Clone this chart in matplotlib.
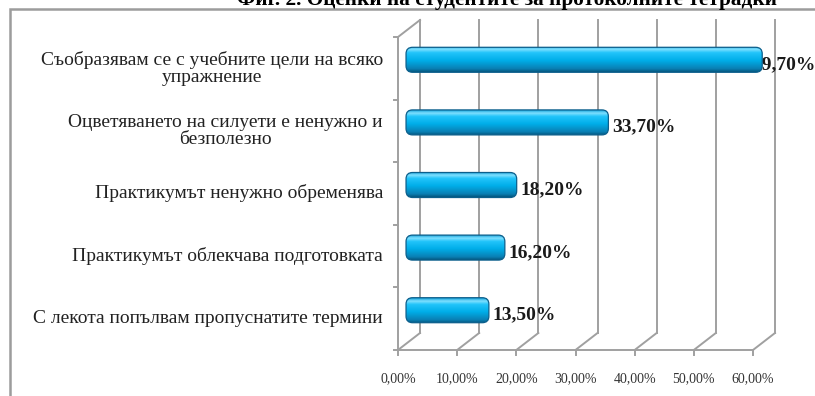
import numpy as np
import matplotlib
matplotlib.use("Agg")
import matplotlib.pyplot as plt
from matplotlib.patches import FancyBboxPatch, Rectangle
from matplotlib.colors import to_rgb

# chart data (top bar first)
categories = [
    "Съобразявам се с учебните цели на всяко\nупражнение",
    "Оцветяването на силуети е ненужно и\nбезполезно",
    "Практикумът ненужно обременява",
    "Практикумът облекчава подготовката",
    "С лекота попълвам пропуснатите термини",
]
values = [59.7, 33.7, 18.2, 16.2, 13.5]
x_ticks = [0, 10, 20, 30, 40, 50, 60]
title = "Фиг. 2. Оценки на студентите за протоколните тетрадки"

SERIF = "Liberation Serif"
GRID = "#a0a0a0"
W, H = 815, 396


def fmt(v):
    return f"{v:.2f}%".replace(".", ",")


fig = plt.figure(figsize=(W / 100, H / 100), dpi=100)
fig.patch.set_facecolor("white")

# outer chart frame
fig.patches.append(Rectangle((10 / W, -0.05), 1.0, 1 - 9 / H + 0.05,
                             transform=fig.transFigure, fill=False,
                             edgecolor="#9c9c9c", linewidth=1.8))

# title, cut off at the top like the reference
fig.text(507 / W, 1 - 5 / H, title, ha="center", va="baseline",
         fontsize=15.3, fontweight="bold", family=SERIF)

# front plane of the 3D plot area
ax = fig.add_axes([398 / W, (H - 350) / H, 355 / W, 313 / H])
ax.set_xlim(0, 60)
ax.set_ylim(-0.5, 4.5)
ax.axis("off")

px_x = 355 / 60     # pixels per percent
px_y = 313 / 5      # pixels per category
DX = 22 / px_x      # depth offset
DY = 17 / px_y

ypos = np.arange(len(categories))[::-1]

# back wall gridlines and floor diagonals
for t in x_ticks:
    ax.plot([t + DX, t + DX], [-0.5 + DY, 4.5 + DY], color=GRID, lw=1.4,
            clip_on=False, zorder=1)
    ax.plot([t, t + DX], [-0.5, -0.5 + DY], color=GRID, lw=1.4,
            clip_on=False, zorder=1)
    ax.plot([t, t], [-0.5, -0.5 - 5 / px_y], color=GRID, lw=1.4,
            clip_on=False, zorder=1)
    ax.text(t, -0.5 - 29 / px_y, fmt(t), ha="center", va="center",
            fontsize=10, family=SERIF, color="#333333")

# floor front edge and left wall
ax.plot([0, 60], [-0.5, -0.5], color=GRID, lw=1.4, clip_on=False, zorder=1)
ax.plot([0, 0], [-0.5, 4.5], color=GRID, lw=1.4, clip_on=False, zorder=1)
ax.plot([0, DX], [4.5, 4.5 + DY], color=GRID, lw=1.4, clip_on=False, zorder=1)
for b in np.arange(-0.5, 4.6, 1.0):
    ax.plot([-4 / px_x, 0], [b, b], color=GRID, lw=1.4, clip_on=False, zorder=1)

# cylinder-like gradient for the bars
stops = [(0.0, "#04577f"), (0.12, "#0a7fb3"), (0.45, "#00aee9"),
         (0.75, "#22c4fa"), (0.88, "#7fe0ff"), (1.0, "#1aa6dc")]
grad_y = np.linspace(0, 1, 64)
grad = np.zeros((64, 1, 3))
for c in range(3):
    grad[:, 0, c] = np.interp(grad_y, [s[0] for s in stops],
                              [to_rgb(s[1])[c] for s in stops])

renderer = fig.canvas.get_renderer()
half_h = 12.5 / px_y
for y, v in zip(ypos, values):
    yc = y + DY / 2
    x0 = DX / 2 - 0.5
    x1 = DX / 2 + v
    patch = FancyBboxPatch((x0, yc - half_h), x1 - x0, 2 * half_h,
                           boxstyle="round,pad=0,rounding_size=1.1",
                           mutation_aspect=px_x / px_y,
                           facecolor="none", edgecolor="#0b5f8c",
                           linewidth=0.9, zorder=4, clip_on=False)
    ax.add_patch(patch)
    im = ax.imshow(grad, extent=[x0, x1, yc - half_h, yc + half_h],
                   origin="lower", aspect="auto", zorder=3)
    im.set_clip_box(fig.bbox)
    im.set_clip_path(patch)
    # value label, drawn under the bar; kept inside the chart on the right
    lbl = ax.text(x1 + 4 / px_x, y + 0.06, fmt(v), ha="left", va="center",
                  fontsize=14, fontweight="bold", family=SERIF,
                  color="#1a1a1a", zorder=2, clip_on=False)
    right = lbl.get_window_extent(renderer).x1
    if right > W + 1:
        lbl.set_horizontalalignment("right")
        lbl.set_x(60 + (W + 1 - 753) / px_x)

ax.set_xlim(0, 60)
ax.set_ylim(-0.5, 4.5)

# category labels
for y, lab in zip(ypos, categories):
    ax.text(-15 / px_x, y, lab, ha="right", va="center", multialignment="center",
            fontsize=14, family=SERIF, color="#222222", linespacing=1.0,
            clip_on=False)

fig.savefig("out.png", dpi=100, facecolor="white")
